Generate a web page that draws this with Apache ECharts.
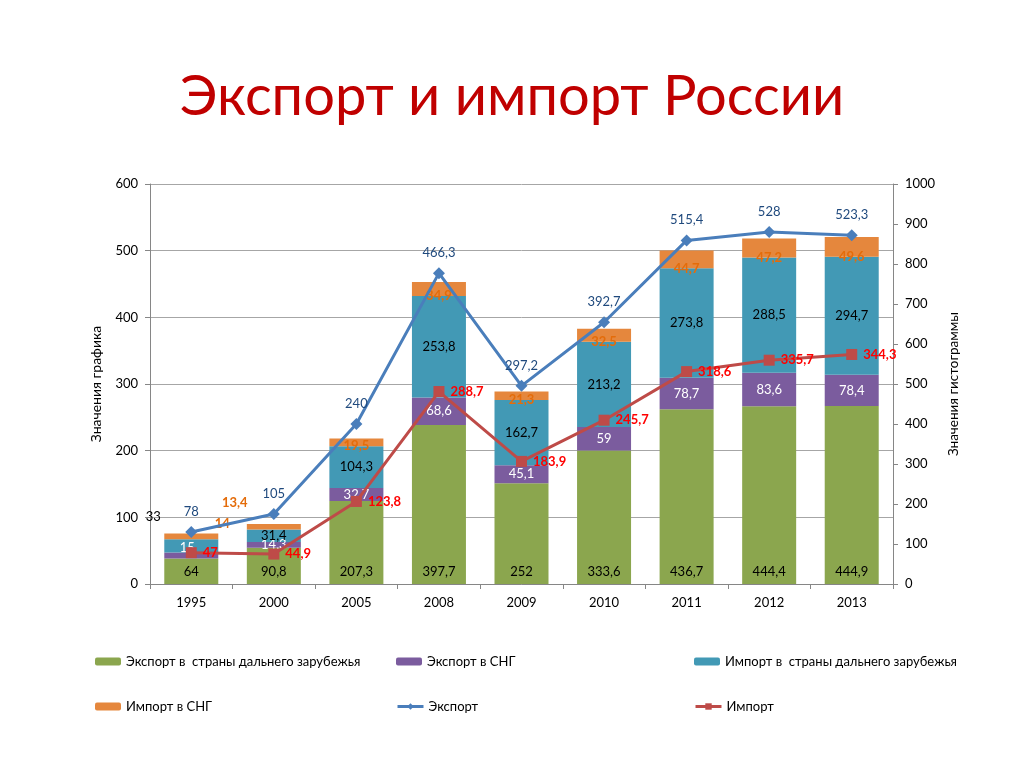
<!DOCTYPE html>
<html>
<head>
<meta charset="utf-8">
<script src="https://cdn.jsdelivr.net/npm/echarts@6/dist/echarts.min.js"></script>
<style>
html,body{margin:0;padding:0;background:#fff;}
#chart{width:1024px;height:767px;}
</style>
</head>
<body>
<div id="chart"></div>
<script>
const categories = ['1995','2000','2005','2008','2009','2010','2011','2012','2013'];
const exportFar = [64, 90.8, 207.3, 397.7, 252, 333.6, 436.7, 444.4, 444.9];
const exportCis = [15, 14.3, 32.7, 68.6, 45.1, 59, 78.7, 83.6, 78.4];
const importFar = [33, 31.4, 104.3, 253.8, 162.7, 213.2, 273.8, 288.5, 294.7];
const importCis = [14, 13.4, 19.5, 34.9, 21.3, 32.5, 44.7, 47.2, 49.6];
const exportTotal = [78, 105, 240, 466.3, 297.2, 392.7, 515.4, 528, 523.3];
const importTotal = [47, 44.9, 123.8, 288.7, 183.9, 245.7, 318.6, 335.7, 344.3];

const names = ['Экспорт в  страны дальнего зарубежья','Экспорт в СНГ','Импорт в  страны дальнего зарубежья','Импорт в СНГ','Экспорт','Импорт'];
const colors = ['#8BA64E','#7B5C9E','#4299B5','#E5873D','#4A7EBB','#BE4B48'];

const FONT = 'Lato, "Open Sans", sans-serif';
const fmt = v => String(v).replace('.', ',');

// manual label offsets (index -> [dx, dy])
const purpleOffsets = {0: [-4, -8]};
const blueOffsets = {0: [-38, -29]};
const orangeOffsets = {0: [31, -15], 1: [-39, -27]};

function withOffsets(vals, offs) {
  return vals.map((v, i) => offs[i] ? {value: v, label: {offset: offs[i]}} : v);
}

const chart = echarts.init(document.getElementById('chart'));
const legendPos = [[95,655],[396,655],[694,655],[95,700],[396,700],[694,700]];

const option = {
  animation: false,
  backgroundColor: '#fff',
  title: {
    text: 'Экспорт и импорт России',
    left: 'center', top: 64,
    textStyle: {color: '#C00000', fontSize: 56, fontWeight: 'normal', fontFamily: FONT}
  },
  legend: names.map((n, i) => ({
    data: [n], left: legendPos[i][0], top: legendPos[i][1], padding: 0,
    itemWidth: 26, itemHeight: 8, itemGap: 4,
    lineStyle: {width: 3},
    textStyle: {fontSize: 13, color: '#000', fontFamily: FONT}
  })),
  grid: {left: 150, right: 131, top: 184, bottom: 183, containLabel: false},
  xAxis: {
    type: 'category', data: categories,
    axisLine: {lineStyle: {color: '#868686'}},
    axisTick: {show: true, length: 5, lineStyle: {color: '#868686'}},
    axisLabel: {color: '#000', fontSize: 13, fontFamily: FONT, margin: 12}
  },
  yAxis: [
    {
      type: 'value', min: 0, max: 600, interval: 100,
      name: 'Значения графика', nameLocation: 'middle', nameGap: 47, nameRotate: 90,
      nameTextStyle: {color: '#000', fontSize: 14, fontFamily: FONT},
      axisLine: {show: true, lineStyle: {color: '#868686'}},
      axisTick: {show: true, length: 5, lineStyle: {color: '#868686'}},
      axisLabel: {color: '#000', fontSize: 13, fontFamily: FONT, margin: 12},
      splitLine: {show: true, lineStyle: {color: '#A6A6A6'}}
    },
    {
      type: 'value', min: 0, max: 1000, interval: 100,
      name: 'Значения гистограммы', nameLocation: 'middle', nameGap: 54, nameRotate: 90,
      nameTextStyle: {color: '#000', fontSize: 13.5, fontFamily: FONT},
      axisLine: {show: true, lineStyle: {color: '#868686'}},
      axisTick: {show: true, length: 5, lineStyle: {color: '#868686'}},
      axisLabel: {color: '#000', fontSize: 13, fontFamily: FONT, margin: 12, formatter: v => String(v)},
      splitLine: {show: false}
    }
  ],
  series: [
    {
      name: names[0], type: 'bar', stack: 'b', yAxisIndex: 1, barWidth: 54,
      itemStyle: {color: colors[0]},
      label: {show: true, position: 'insideBottom', distance: 6, color: '#000', fontSize: 13, fontFamily: FONT, formatter: p => fmt(p.value)},
      data: exportFar
    },
    {
      name: names[1], type: 'bar', stack: 'b', yAxisIndex: 1, barWidth: 54,
      itemStyle: {color: colors[1]},
      label: {show: true, position: 'inside', color: '#fff', fontSize: 13, fontFamily: FONT, formatter: p => fmt(p.value)},
      data: withOffsets(exportCis, purpleOffsets)
    },
    {
      name: names[2], type: 'bar', stack: 'b', yAxisIndex: 1, barWidth: 54,
      itemStyle: {color: colors[2]},
      label: {show: true, position: 'inside', color: '#000', fontSize: 13, fontFamily: FONT, formatter: p => fmt(p.value)},
      data: withOffsets(importFar, blueOffsets)
    },
    {
      name: names[3], type: 'bar', stack: 'b', yAxisIndex: 1, barWidth: 54,
      itemStyle: {color: colors[3]},
      label: {show: true, position: ['50%', '100%'], align: 'center', verticalAlign: 'middle', color: '#E46C0A', fontWeight: 'bold', fontSize: 13, fontFamily: FONT, formatter: p => fmt(p.value)},
      data: withOffsets(importCis, orangeOffsets)
    },
    {
      name: names[4], type: 'line', yAxisIndex: 0, z: 5,
      symbol: 'diamond', symbolSize: 12,
      lineStyle: {color: colors[4], width: 3},
      itemStyle: {color: colors[4]},
      label: {show: true, position: 'top', distance: 8, color: '#1F497D', fontSize: 13, fontFamily: FONT, formatter: p => fmt(p.value)},
      data: exportTotal
    },
    {
      name: names[5], type: 'line', yAxisIndex: 0, z: 5,
      symbol: 'rect', symbolSize: 11,
      lineStyle: {color: colors[5], width: 3},
      itemStyle: {color: colors[5]},
      label: {show: true, position: 'right', distance: 6, color: '#FF0000', fontWeight: 'bold', fontSize: 13, fontFamily: FONT, formatter: p => fmt(p.value)},
      data: importTotal
    }
  ]
};
chart.setOption(option);
</script>
</body>
</html>
